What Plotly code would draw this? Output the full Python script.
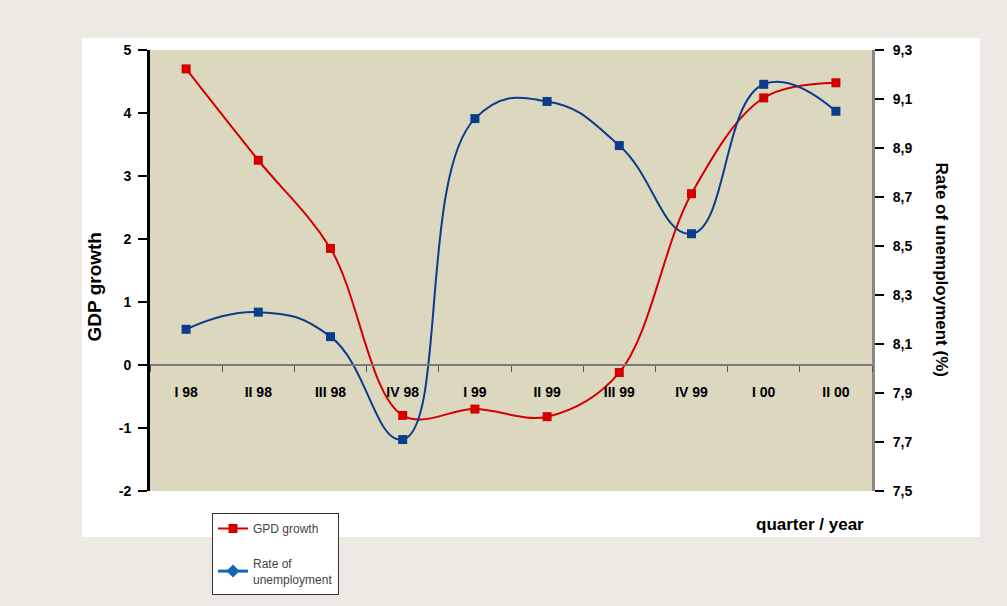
import plotly.graph_objects as go

quarters = ["I 98", "II 98", "III 98", "IV 98", "I 99", "II 99",
            "III 99", "IV 99", "I 00", "II 00"]
gdp_growth = [4.7, 3.25, 1.85, -0.8, -0.7, -0.82, -0.12, 2.72, 4.24, 4.48]
unemployment = [8.16, 8.23, 8.13, 7.71, 9.02, 9.09, 8.91, 8.55, 9.16, 9.05]

left_ticks = list(range(-2, 6))
left_labels = [str(v) for v in left_ticks]  # plain hyphen for negatives
right_ticks = [7.5, 7.7, 7.9, 8.1, 8.3, 8.5, 8.7, 8.9, 9.1, 9.3]

RED = "#D40000"
BLUE = "#0B3C8C"
LEGEND_BLUE = "#1565B5"
PLOT_BG = "#DBD8BF"
FONT = "Liberation Sans, Arial, sans-serif"
TICK_FONT = dict(family=FONT, size=14, color="#000000", weight="bold")

W, H = 1007, 606
L, R, T, B = 150, 872, 50, 492  # plot area in pixels


def px_x(px):
    return (px - L) / (R - L)


def px_y(py):
    return (B - py) / (B - T)


fig = go.Figure()

fig.add_trace(go.Scatter(
    x=quarters, y=gdp_growth, name="GPD growth", yaxis="y",
    mode="lines+markers", line=dict(color=RED, width=2, shape="spline", smoothing=1.0),
    marker=dict(symbol="square", size=9, color=RED),
    legendgroup="a",
))
fig.add_trace(go.Scatter(
    x=quarters, y=unemployment, name="Rate of<br>unemployment", yaxis="y2",
    mode="lines+markers", line=dict(color=BLUE, width=2, shape="spline", smoothing=1.3),
    marker=dict(symbol="square", size=9, color=BLUE),
    showlegend=False,
))
# legend entry for the unemployment series
fig.add_trace(go.Scatter(
    x=[None], y=[None], name="Rate of<br>unemployment", yaxis="y2",
    mode="lines+markers", line=dict(color=LEGEND_BLUE, width=3),
    marker=dict(symbol="diamond", size=10, color=LEGEND_BLUE),
    legendgroup="b",
))

zero_pos = 2 / 7

fig.update_layout(
    width=W, height=H,
    margin=dict(l=L, r=W - R, t=T, b=H - B, pad=0),
    paper_bgcolor="#EDEAE3",
    plot_bgcolor=PLOT_BG,
    separators=",.",
    showlegend=True,
    legend=dict(
        x=px_x(212), y=px_y(513), xanchor="left", yanchor="top",
        bgcolor="#FFFFFF", bordercolor="#333333", borderwidth=1,
        font=dict(family=FONT, size=12, color="#444444"),
        traceorder="grouped", tracegroupgap=16, itemwidth=30,
    ),
    xaxis=dict(
        type="category", categoryorder="array", categoryarray=quarters,
        range=[-0.5, 9.5], anchor="free", position=zero_pos,
        showline=True, linecolor="#7A7A7A", linewidth=2,
        ticks="outside", tickson="boundaries", ticklen=6, tickcolor="#555555",
        ticklabelstandoff=14,
        showgrid=False, tickfont=TICK_FONT, fixedrange=True,
    ),
    yaxis=dict(
        range=[-2, 5], tickvals=left_ticks, ticktext=left_labels,
        showgrid=False, zeroline=False,
        showline=True, linecolor="#000000", linewidth=3,
        ticks="outside", ticklen=9, tickcolor="#000000", tickwidth=2,
        ticklabelstandoff=4, tickfont=TICK_FONT,
    ),
    yaxis2=dict(
        range=[7.5, 9.3], tickvals=right_ticks, tickformat=".1f",
        overlaying="y", side="right", showgrid=False, zeroline=False,
        showline=True, linecolor="#888888", linewidth=3,
        ticks="outside", ticklen=9, tickcolor="#000000", tickwidth=2,
        ticklabelstandoff=6, tickfont=TICK_FONT,
    ),
    shapes=[
        dict(type="rect", xref="paper", yref="paper", layer="below",
             x0=px_x(82), x1=px_x(980), y0=px_y(538), y1=px_y(38),
             fillcolor="#FFFFFF", line=dict(width=0)),
        dict(type="rect", xref="paper", yref="paper", layer="below",
             x0=0, x1=1, y0=0, y1=1,
             fillcolor=PLOT_BG, line=dict(width=0)),
    ],
    annotations=[
        dict(text="<b>GDP growth</b>", xref="paper", yref="paper",
             x=px_x(94), y=px_y(288), xanchor="center", yanchor="middle",
             textangle=-90, showarrow=False,
             font=dict(family=FONT, size=19, color="#000")),
        dict(text="<b>Rate of unemployment (%)</b>", xref="paper", yref="paper",
             x=px_x(941), y=px_y(270), xanchor="center", yanchor="middle",
             textangle=90, showarrow=False,
             font=dict(family=FONT, size=17, color="#000")),
        dict(text="<b>quarter / year</b>", xref="paper", yref="paper",
             x=px_x(810), y=px_y(526), xanchor="center", yanchor="middle",
             showarrow=False,
             font=dict(family=FONT, size=17, color="#000")),
    ],
)

fig.write_html("out.html")
